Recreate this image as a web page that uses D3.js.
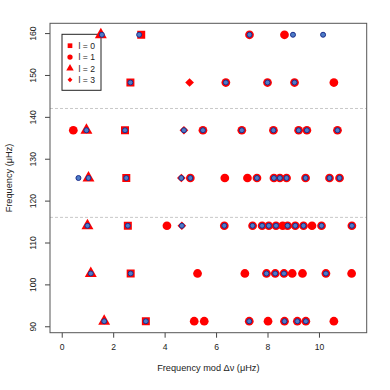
<!DOCTYPE html>
<html><head><meta charset="utf-8">
<script src="https://cdn.jsdelivr.net/npm/d3@7"></script>
<style>body{margin:0;background:#fff}svg{display:block}text{font-family:"Liberation Sans",Arial,Helvetica,sans-serif;fill:#222}</style>
</head><body><svg id="c" width="390" height="390"></svg>
<script>
const deltaNu = 11.4;
const rowsAll = [91.2, 102.6, 114.0, 125.4, 136.8, 148.2, 159.6];
const xTicks = [0, 2, 4, 6, 8, 10];
const yTicks = [90, 100, 110, 120, 130, 140, 150, 160];
const dashedLevels = [116, 142];
const legendLabels = ["l = 0", "l = 1", "l = 2", "l = 3"];

// model modes: row frequency (bin) and frequency mod Δν
const l0Row = [91.2, 102.6, 114.0, 125.4, 136.8, 148.2, 159.6];
const l0Mod = [3.27, 2.68, 2.57, 2.51, 2.46, 2.67, 3.09];
const l2Row = [91.2, 102.6, 114.0, 125.4, 136.8, 159.6];
const l2Mod = [1.65, 1.13, 1.00, 1.04, 0.96, 1.52];
const l3Row = [114.0, 125.4, 136.8, 148.2];
const l3Mod = [4.67, 4.65, 4.75, 4.97];
const l1Row = [
  91.2, 91.2, 91.2, 91.2, 91.2, 91.2, 91.2, 91.2,
  102.6, 102.6, 102.6, 102.6, 102.6, 102.6, 102.6, 102.6, 102.6,
  114.0, 114.0, 114.0, 114.0, 114.0, 114.0, 114.0, 114.0, 114.0, 114.0, 114.0, 114.0, 114.0,
  125.4, 125.4, 125.4, 125.4, 125.4, 125.4, 125.4, 125.4, 125.4, 125.4,
  136.8, 136.8, 136.8, 136.8, 136.8, 136.8, 136.8,
  148.2, 148.2, 148.2, 148.2,
  159.6, 159.6];
const l1Mod = [
  5.15, 5.54, 7.29, 8.02, 8.66, 9.16, 9.49, 10.58,
  5.28, 7.12, 7.96, 8.30, 8.64, 8.96, 9.36, 10.27, 11.27,
  4.09, 6.32, 7.42, 7.79, 8.05, 8.33, 8.59, 8.78, 9.08, 9.40, 9.73, 10.10, 11.28,
  5.00, 6.34, 7.22, 7.59, 8.25, 8.48, 8.74, 9.48, 10.41, 10.80,
  0.45, 5.49, 7.00, 8.23, 9.21, 9.53, 10.72,
  6.38, 8.00, 9.05, 10.58,
  7.30, 8.66];

// observed frequencies
const obsRow = [
  91.2, 91.2, 91.2, 91.2, 91.2, 91.2,
  102.6, 102.6, 102.6, 102.6, 102.6, 102.6,
  114.0, 114.0, 114.0, 114.0, 114.0, 114.0, 114.0, 114.0, 114.0, 114.0, 114.0, 114.0, 114.0,
  125.4, 125.4, 125.4, 125.4, 125.4, 125.4, 125.4, 125.4, 125.4, 125.4, 125.4, 125.4,
  136.8, 136.8, 136.8, 136.8, 136.8, 136.8, 136.8, 136.8, 136.8,
  148.2, 148.2, 148.2, 148.2,
  159.6, 159.6, 159.6, 159.6, 159.6];
const obsMod = [
  1.65, 3.27, 7.29, 8.66, 9.16, 9.49,
  1.13, 2.68, 7.96, 8.30, 8.64, 10.27,
  1.00, 2.57, 4.67, 6.32, 7.42, 7.79, 8.05, 8.33, 8.78, 9.08, 9.40, 10.10, 11.28,
  0.65, 1.04, 2.51, 4.65, 5.00, 7.59, 8.25, 8.48, 8.74, 9.48, 10.41, 10.80,
  0.96, 2.46, 4.75, 5.49, 7.00, 8.23, 9.21, 9.53, 10.72,
  2.67, 6.38, 8.00, 9.05,
  1.56, 3.01, 7.30, 8.99, 10.16];

const svg = d3.select("#c");
const L = 50, R = 366.7, T = 23.3, B = 332.7;
const xPad = deltaNu * 0.04;
const yMin = d3.min(rowsAll), yMax = d3.max(rowsAll), yPad = (yMax - yMin) * 0.04;
const x = d3.scaleLinear().domain([0 - xPad, deltaNu + xPad]).range([L, R]);
const y = d3.scaleLinear().domain([yMin - yPad, yMax + yPad]).range([B, T]);

const red = "#ff0000", blueFill = "#4d7cc7", blueStroke = "#1c2e8c";

// dashed lines
svg.selectAll("line.dash").data(dashedLevels).enter().append("line")
  .attr("x1", L).attr("x2", R).attr("y1", d => y(d)).attr("y2", d => y(d))
  .attr("stroke", "#c8c8c8").attr("stroke-width", 1).attr("stroke-dasharray", "3,2");

// axes
const xAxis = svg.append("g").attr("transform", `translate(0,${B})`)
  .call(d3.axisBottom(x).tickValues(xTicks).tickSize(5).tickPadding(6).tickFormat(d3.format("d")));
const yAxis = svg.append("g").attr("transform", `translate(${L},0)`)
  .call(d3.axisLeft(y).tickValues(yTicks).tickSize(5).tickFormat(d3.format("d")));
[xAxis, yAxis].forEach(g => {
  g.select(".domain").remove();
  g.selectAll(".tick line").attr("stroke", "#444");
  g.selectAll("text").attr("font-size", 8.6).attr("fill", "#222")
    .style("font-family", '"Liberation Sans",Arial,sans-serif');
});
yAxis.selectAll(".tick text").attr("x", null).attr("dy", null)
  .attr("text-anchor", "middle").attr("transform", "translate(-14,0) rotate(-90)");

// frame
svg.append("rect").attr("x", L).attr("y", T).attr("width", R - L).attr("height", B - T)
  .attr("fill", "none").attr("stroke", "#555").attr("stroke-width", 1);

svg.append("text").attr("x", (L + R) / 2).attr("y", 371).attr("text-anchor", "middle")
  .attr("font-size", 9.2).text("Frequency mod Δν (μHz)");
svg.append("text").attr("transform", `translate(12,${(T + B) / 2}) rotate(-90)`)
  .attr("text-anchor", "middle").attr("font-size", 9.2).text("Frequency (μHz)");

// legend
const leg = svg.append("g");
leg.append("rect").attr("x", 62).attr("y", 34.3).attr("width", 39).attr("height", 56)
  .attr("fill", "#fff").attr("stroke", "#222").attr("stroke-width", 1);
const legSyms = [
  d3.symbol().type(d3.symbolSquare).size(22),
  d3.symbol().type(d3.symbolCircle).size(22),
  d3.symbol().type(d3.symbolTriangle).size(24),
  d3.symbol().type(d3.symbolSquare).size(12)];
legendLabels.forEach((lab, i) => {
  const cy = 45.7 + i * 11.35;
  leg.append("path").attr("d", legSyms[i]()).attr("fill", red)
    .attr("transform", `translate(70,${cy})` + (i === 3 ? " rotate(45)" : ""));
  leg.append("text").attr("x", 78.5).attr("y", cy + 3.2).attr("font-size", 8.6).text(lab);
});

// model markers
function drawModel(rows, mods, sym, rot) {
  svg.append("g").selectAll("path").data(rows.map((r, i) => [mods[i], r])).enter().append("path")
    .attr("d", sym()).attr("fill", red)
    .attr("transform", d => `translate(${x(d[0])},${y(d[1])})` + (rot ? " rotate(45)" : ""));
}
drawModel(l0Row, l0Mod, d3.symbol().type(d3.symbolSquare).size(64), false);
drawModel(l1Row, l1Mod, d3.symbol().type(d3.symbolCircle).size(60), false);
drawModel(l2Row, l2Mod, d3.symbol().type(d3.symbolTriangle).size(62), false);
drawModel(l3Row, l3Mod, d3.symbol().type(d3.symbolSquare).size(38), true);

// observed
svg.append("g").selectAll("circle").data(obsRow.map((r, i) => [obsMod[i], r])).enter().append("circle")
  .attr("cx", d => x(d[0])).attr("cy", d => y(d[1])).attr("r", 2.5)
  .attr("fill", blueFill).attr("stroke", blueStroke).attr("stroke-width", 1);
</script></body></html>
